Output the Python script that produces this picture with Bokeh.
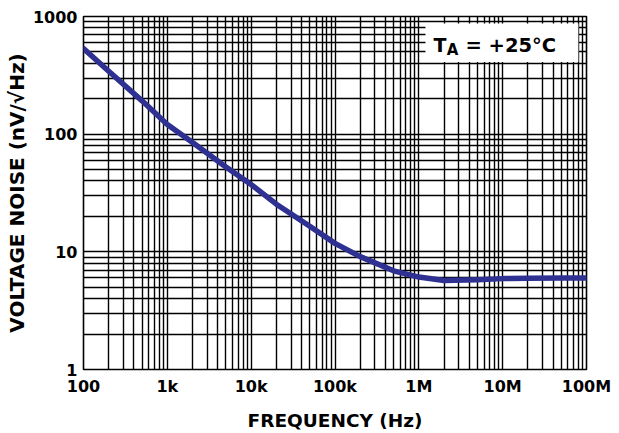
from bokeh.plotting import figure
from bokeh.models import FixedTicker, BoxAnnotation, Label, ColumnDataSource
from bokeh.embed import file_html
from bokeh.resources import INLINE

# Data
freq_hz = [100, 200, 500, 1e3, 2e3, 5e3, 1e4, 2e4, 5e4, 1e5, 2e5, 5e5,
           1e6, 2e6, 5e6, 1e7, 2e7, 5e7, 1e8]
noise_nv = [534, 343, 192, 121, 85, 52.6, 37.3, 25.4, 16.5, 11.8, 9.1, 6.9,
            6.1, 5.7, 5.8, 5.92, 5.96, 6.0, 6.0]

x_ticks = [1e2, 1e3, 1e4, 1e5, 1e6, 1e7, 1e8]
x_tick_labels = ["100", "1k", "10k", "100k", "1M", "10M", "100M"]
y_ticks = [1, 10, 100, 1000]
y_tick_labels = ["1", "10", "100", "1000"]

FONT = "DejaVu Sans"
CURVE = "#2E3192"

x_minor = [m * d for d in [1e2, 1e3, 1e4, 1e5, 1e6, 1e7] for m in range(2, 10)]
y_minor = [m * d for d in [1, 10, 100] for m in range(2, 10)]

p = figure(width=619, height=433, x_axis_type="log", y_axis_type="log",
           x_range=(1e2, 1e8), y_range=(1, 1000),
           output_backend="svg", toolbar_location=None,
           min_border_left=83, min_border_right=33,
           min_border_top=16, min_border_bottom=61)
p.background_fill_color = "white"
p.border_fill_color = "white"
p.outline_line_color = "black"
p.outline_line_width = 1.6

p.xaxis.ticker = FixedTicker(ticks=x_ticks, minor_ticks=x_minor)
p.yaxis.ticker = FixedTicker(ticks=y_ticks, minor_ticks=y_minor)
p.xaxis.major_label_overrides = {t: l for t, l in zip(x_ticks, x_tick_labels)}
p.yaxis.major_label_overrides = {t: l for t, l in zip(y_ticks, y_tick_labels)}

for ax in (p.xaxis[0], p.yaxis[0]):
    ax.axis_line_color = None
    ax.major_tick_line_color = None
    ax.minor_tick_line_color = None
    ax.major_tick_in = 0
    ax.major_tick_out = 0
    ax.minor_tick_in = 0
    ax.minor_tick_out = 0
    ax.major_label_text_font = FONT
    ax.major_label_text_font_style = "bold"
    ax.major_label_text_font_size = "16px"
    ax.major_label_text_color = "black"
    ax.axis_label_text_font = FONT
    ax.axis_label_text_font_style = "bold"
    ax.axis_label_text_color = "black"

p.xaxis.major_label_standoff = 7
p.yaxis.major_label_standoff = 6
p.xaxis.axis_label = "FREQUENCY (Hz)"
p.xaxis.axis_label_text_font_size = "18.5px"
p.xaxis.axis_label_standoff = 11
p.yaxis.axis_label = "VOLTAGE NOISE (nV/\u221aHz)"
p.yaxis.axis_label_text_font_size = "20px"
p.yaxis.axis_label_standoff = 1

for g in (p.xgrid[0], p.ygrid[0]):
    g.grid_line_color = "black"
    g.grid_line_width = 1.4
    g.grid_line_alpha = 1.0
    g.minor_grid_line_color = "black"
    g.minor_grid_line_width = 1.4
    g.minor_grid_line_alpha = 1.0

src = ColumnDataSource(dict(f=freq_hz, n=noise_nv))
p.line("f", "n", source=src, line_color=CURVE, line_width=5.5,
       line_join="round", line_cap="round")

# Condition box
p.add_layout(BoxAnnotation(left=1.2e6, right=8.0e7, bottom=410, top=870,
                           fill_color="white", fill_alpha=1.0,
                           line_color=None, level="overlay"))
p.add_layout(Label(x=1.5e6, y=569, text="T", text_font=FONT,
                   text_font_style="bold", text_font_size="19px",
                   text_color="black", text_baseline="alphabetic",
                   level="overlay"))
p.add_layout(Label(x=2.15e6, y=516, text="A", text_font=FONT,
                   text_font_style="bold", text_font_size="15px",
                   text_color="black", text_baseline="alphabetic",
                   level="overlay"))
p.add_layout(Label(x=3.6e6, y=569, text="= +25\u00b0C", text_font=FONT,
                   text_font_style="bold", text_font_size="19.5px",
                   text_color="black", text_baseline="alphabetic",
                   level="overlay"))

open("out.html", "w").write(file_html(p, INLINE))
